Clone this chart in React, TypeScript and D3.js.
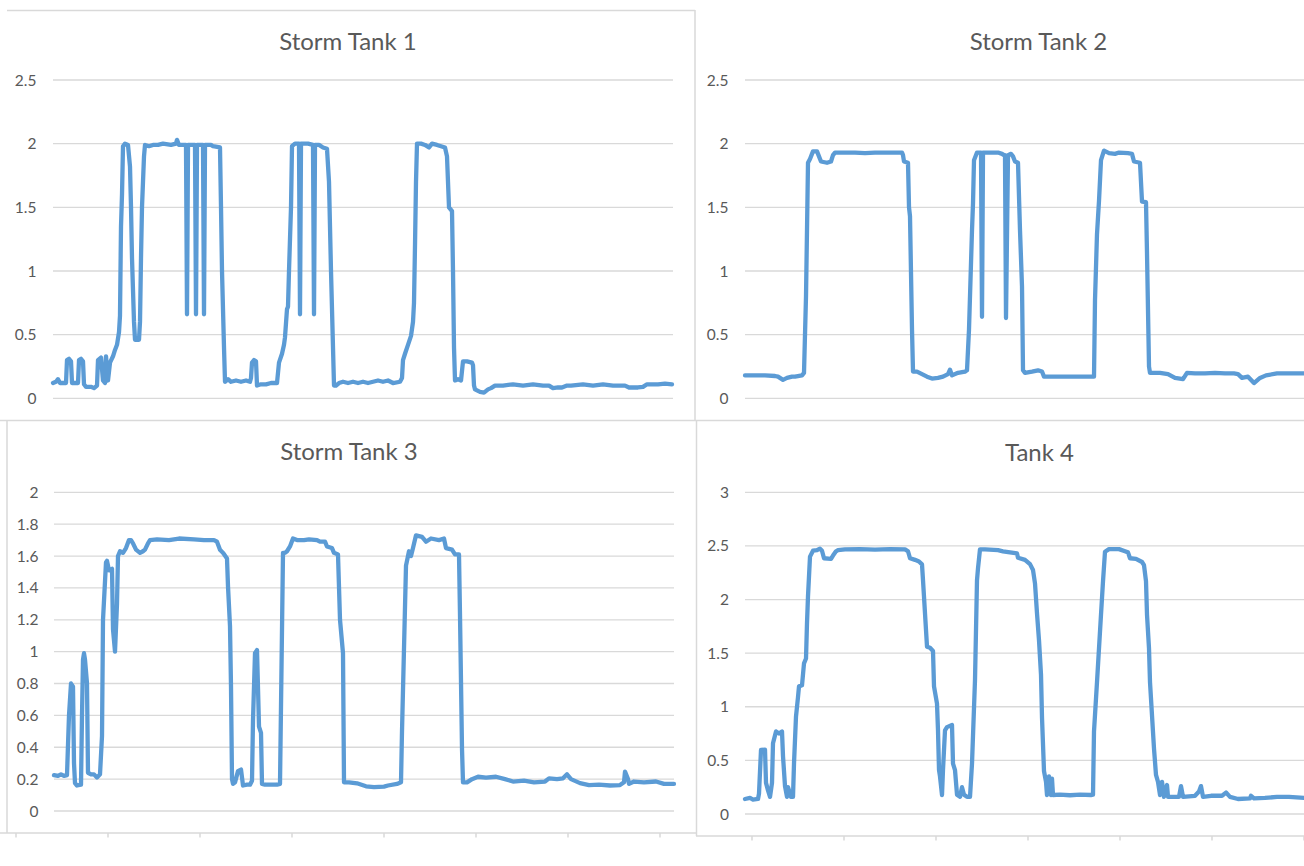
import React, { useEffect, useRef } from "react";
import * as d3 from "d3";

/* DATA: [sample, level] pairs */
const tank1: [number, number][] = [
  [0, 0.12], [3, 0.13], [5, 0.15], [7, 0.12], [13, 0.12], [14, 0.3], [16, 0.31], [18, 0.29], [19, 0.12],
  [25, 0.12], [26, 0.3], [28, 0.31], [30, 0.29], [31, 0.11], [33, 0.09], [38, 0.09], [41, 0.08], [44, 0.1],
  [45, 0.3], [48, 0.32], [50, 0.14], [52, 0.12], [53, 0.33], [55, 0.14], [57, 0.28], [60, 0.33], [62, 0.38],
  [64, 0.42], [66, 0.52], [67, 0.65], [68, 1.35], [69, 1.6], [70, 1.98], [72, 2.0], [75, 1.99], [77, 1.82],
  [78, 1.5], [79, 1.1], [81, 0.6], [82, 0.46], [86, 0.46], [87, 0.6], [88, 1.1], [89, 1.5], [91, 1.9],
  [92, 1.99], [96, 1.98], [100, 1.99], [105, 1.99], [110, 2.0], [118, 1.99], [123, 2.0], [124, 2.03],
  [126, 1.99], [133, 1.99], [134, 0.66], [135, 1.99], [142, 1.99], [143, 0.66], [144, 1.99], [150, 1.99],
  [151, 0.66], [152, 1.99], [158, 1.99], [160, 1.98], [167, 1.97], [168, 1.5], [169, 1.0], [171, 0.4],
  [172, 0.13], [175, 0.15], [178, 0.13], [183, 0.14], [188, 0.13], [193, 0.14], [197, 0.13], [198, 0.16],
  [199, 0.28], [201, 0.3], [203, 0.29], [204, 0.1], [208, 0.11], [213, 0.11], [218, 0.12], [224, 0.12],
  [226, 0.28], [229, 0.35], [231, 0.42], [232, 0.48], [234, 0.7], [235, 0.72], [236, 1.0], [238, 1.5],
  [239, 1.98], [242, 2.0], [246, 2.0], [247, 0.66], [248, 2.0], [255, 2.0], [260, 1.99], [261, 0.66],
  [262, 1.99], [266, 1.99], [270, 1.97], [274, 1.96], [276, 1.7], [278, 1.0], [280, 0.4], [281, 0.1],
  [283, 0.1], [286, 0.12], [290, 0.13], [295, 0.12], [300, 0.13], [305, 0.12], [310, 0.13], [315, 0.12],
  [320, 0.13], [325, 0.14], [330, 0.13], [335, 0.14], [340, 0.12], [347, 0.13], [349, 0.16], [350, 0.3],
  [352, 0.35], [355, 0.42], [358, 0.49], [360, 0.6], [361, 0.75], [362, 1.2], [363, 1.7], [364, 2.0],
  [368, 2.0], [372, 1.99], [376, 1.97], [379, 2.0], [384, 1.99], [388, 1.98], [392, 1.97], [394, 1.9],
  [396, 1.5], [399, 1.47], [400, 1.0], [401, 0.4], [402, 0.14], [405, 0.15], [408, 0.14], [410, 0.29],
  [414, 0.29], [419, 0.28], [420, 0.26], [421, 0.1], [422, 0.07], [427, 0.05], [431, 0.045], [435, 0.07],
  [438, 0.08], [442, 0.1], [450, 0.1], [460, 0.11], [470, 0.1], [480, 0.11], [490, 0.1], [496, 0.1],
  [500, 0.08], [505, 0.085], [509, 0.085], [514, 0.1], [518, 0.1], [530, 0.11], [540, 0.1], [550, 0.11],
  [560, 0.1], [572, 0.1], [576, 0.085], [585, 0.085], [590, 0.09], [594, 0.11], [605, 0.11], [612, 0.115],
  [619, 0.11],
];

const tank2: [number, number][] = [
  [0, 0.18], [10, 0.18], [20, 0.18], [30, 0.175], [33, 0.17], [38, 0.145], [42, 0.16], [47, 0.17], [50, 0.17],
  [57, 0.18], [59, 0.2], [61, 0.8], [62, 1.32], [63, 1.85], [65, 1.88], [67, 1.92], [68, 1.94], [72, 1.94],
  [73, 1.92], [76, 1.86], [82, 1.85], [86, 1.86], [88, 1.91], [90, 1.93], [100, 1.93], [110, 1.93],
  [120, 1.925], [130, 1.93], [140, 1.93], [150, 1.93], [157, 1.93], [158, 1.91], [159, 1.86], [163, 1.85],
  [164, 1.5], [165, 1.43], [167, 0.54], [168, 0.21], [172, 0.21], [177, 0.19], [182, 0.17], [187, 0.155],
  [193, 0.16], [198, 0.17], [203, 0.19], [205, 0.225], [207, 0.18], [213, 0.2], [220, 0.21], [222, 0.22],
  [224, 0.54], [227, 1.32], [228, 1.53], [229, 1.87], [232, 1.93], [236, 1.93], [237, 0.64], [238, 1.93],
  [245, 1.93], [253, 1.93], [257, 1.92], [259, 1.91], [260, 1.91], [261, 0.63], [263, 1.91], [266, 1.92],
  [268, 1.9], [270, 1.86], [273, 1.85], [275, 1.32], [277, 0.88], [278, 0.22], [280, 0.2], [287, 0.21],
  [293, 0.22], [297, 0.21], [299, 0.17], [305, 0.17], [315, 0.17], [325, 0.17], [335, 0.17], [345, 0.17],
  [349, 0.17], [350, 0.77], [352, 1.29], [354, 1.55], [356, 1.87], [359, 1.945], [364, 1.925], [370, 1.92],
  [374, 1.93], [383, 1.925], [387, 1.92], [389, 1.86], [395, 1.85], [397, 1.545], [401, 1.54], [402, 1.14],
  [404, 0.25], [405, 0.2], [415, 0.2], [423, 0.19], [430, 0.16], [438, 0.15], [442, 0.2], [450, 0.195],
  [460, 0.195], [470, 0.2], [480, 0.195], [489, 0.195], [493, 0.19], [497, 0.16], [503, 0.17], [509, 0.12],
  [515, 0.16], [521, 0.18], [532, 0.195], [545, 0.195], [559, 0.195],
];

const tank3: [number, number][] = [
  [0, 0.225], [4, 0.22], [7, 0.23], [10, 0.22], [13, 0.225], [15, 0.6], [17, 0.8], [19, 0.78], [20, 0.3],
  [21, 0.175], [23, 0.16], [27, 0.165], [28, 0.6], [29, 0.95], [30, 0.99], [31, 0.95], [33, 0.8], [34, 0.24],
  [37, 0.23], [40, 0.23], [43, 0.21], [46, 0.23], [48, 0.47], [49, 1.2], [52, 1.56], [53, 1.57], [55, 1.51],
  [58, 1.52], [59, 1.14], [61, 1.0], [63, 1.3], [64, 1.6], [66, 1.63], [69, 1.62], [72, 1.65], [75, 1.7],
  [77, 1.7], [79, 1.68], [82, 1.64], [86, 1.62], [89, 1.63], [91, 1.64], [94, 1.68], [96, 1.7], [103, 1.705],
  [115, 1.7], [125, 1.71], [140, 1.705], [150, 1.7], [160, 1.7], [163, 1.69], [166, 1.64], [169, 1.62],
  [173, 1.585], [174, 1.41], [176, 1.16], [177, 0.78], [178, 0.2], [179, 0.17], [181, 0.18], [184, 0.25],
  [187, 0.26], [189, 0.16], [193, 0.165], [196, 0.165], [198, 0.19], [199, 0.57], [201, 0.99], [203, 1.01],
  [205, 0.53], [207, 0.49], [208, 0.17], [211, 0.165], [223, 0.165], [226, 0.17], [229, 1.62], [231, 1.62],
  [233, 1.63], [236, 1.66], [239, 1.71], [243, 1.7], [250, 1.7], [255, 1.705], [263, 1.7], [266, 1.69],
  [271, 1.69], [273, 1.66], [278, 1.65], [280, 1.62], [284, 1.61], [286, 1.2], [289, 0.99], [290, 0.18],
  [295, 0.18], [303, 0.174], [312, 0.155], [320, 0.15], [330, 0.153], [334, 0.16], [343, 0.17], [347, 0.18],
  [348, 0.5], [350, 1.02], [352, 1.54], [355, 1.63], [357, 1.6], [359, 1.65], [362, 1.73], [368, 1.72],
  [372, 1.69], [377, 1.71], [385, 1.7], [390, 1.71], [392, 1.65], [398, 1.64], [401, 1.61], [405, 1.61],
  [406, 1.23], [408, 0.39], [409, 0.18], [413, 0.18], [418, 0.2], [424, 0.215], [432, 0.21], [442, 0.215],
  [451, 0.2], [459, 0.185], [470, 0.19], [480, 0.18], [491, 0.185], [495, 0.205], [503, 0.2], [509, 0.205],
  [513, 0.23], [517, 0.2], [526, 0.175], [535, 0.163], [545, 0.165], [556, 0.16], [566, 0.163], [570, 0.18],
  [571, 0.247], [574, 0.2], [575, 0.17], [580, 0.185], [590, 0.18], [602, 0.185], [610, 0.17], [620, 0.17],
];

const tank4: [number, number][] = [
  [0, 0.14], [5, 0.15], [8, 0.135], [13, 0.14], [14, 0.19], [16, 0.597], [20, 0.6], [21, 0.29], [23, 0.22],
  [25, 0.16], [27, 0.29], [28, 0.66], [31, 0.77], [34, 0.75], [37, 0.77], [38, 0.54], [40, 0.26], [42, 0.16],
  [43, 0.25], [46, 0.16], [48, 0.16], [49, 0.47], [51, 0.91], [53, 1.09], [54, 1.19], [57, 1.2], [59, 1.405],
  [61, 1.45], [62, 1.78], [63, 2.03], [65, 2.4], [68, 2.455], [72, 2.46], [75, 2.475], [77, 2.455],
  [79, 2.385], [86, 2.38], [88, 2.41], [91, 2.45], [93, 2.46], [100, 2.468], [115, 2.47], [130, 2.465],
  [145, 2.47], [160, 2.468], [163, 2.45], [165, 2.385], [170, 2.37], [174, 2.355], [177, 2.328], [178, 2.18],
  [180, 1.87], [182, 1.56], [185, 1.55], [188, 1.52], [189, 1.19], [192, 1.03], [193, 0.78], [194, 0.41],
  [195, 0.35], [197, 0.177], [198, 0.41], [200, 0.78], [202, 0.81], [207, 0.83], [208, 0.47], [210, 0.41],
  [212, 0.18], [215, 0.16], [217, 0.25], [219, 0.18], [222, 0.16], [225, 0.16], [227, 0.47], [230, 1.25],
  [232, 2.18], [233, 2.29], [235, 2.468], [240, 2.468], [253, 2.46], [258, 2.45], [265, 2.44], [272, 2.43],
  [273, 2.39], [280, 2.37], [285, 2.33], [288, 2.275], [290, 2.15], [292, 1.87], [294, 1.62], [296, 1.3],
  [297, 0.9], [299, 0.4], [301, 0.3], [302, 0.177], [304, 0.35], [306, 0.177], [307, 0.33], [308, 0.177],
  [315, 0.18], [325, 0.175], [335, 0.18], [346, 0.177], [348, 0.18], [349, 0.77], [352, 1.23], [354, 1.545],
  [356, 1.86], [358, 2.17], [360, 2.446], [364, 2.47], [374, 2.47], [380, 2.45], [383, 2.44], [385, 2.385],
  [391, 2.38], [397, 2.35], [399, 2.32], [401, 2.17], [402, 1.86], [404, 1.545], [405, 1.23], [407, 0.92],
  [409, 0.61], [411, 0.364], [413, 0.3], [415, 0.177], [417, 0.3], [419, 0.16], [422, 0.27], [423, 0.16],
  [434, 0.16], [436, 0.26], [438, 0.16], [450, 0.17], [454, 0.21], [456, 0.26], [458, 0.16], [466, 0.17],
  [477, 0.17], [481, 0.2], [485, 0.16], [493, 0.14], [505, 0.145], [506, 0.17], [509, 0.145], [520, 0.15],
  [532, 0.16], [544, 0.16], [559, 0.15],
];

const titles = ["Storm Tank 1", "Storm Tank 2", "Storm Tank 3", "Tank 4"];
const yTicks1 = [0, 0.5, 1, 1.5, 2, 2.5];
const yTicks2 = [0, 0.5, 1, 1.5, 2, 2.5];
const yTicks3 = [0, 0.2, 0.4, 0.6, 0.8, 1, 1.2, 1.4, 1.6, 1.8, 2];
const yTicks4 = [0, 0.5, 1, 1.5, 2, 2.5, 3];

/* LAYOUT */
const panels = [
  { title: titles[0], data: tank1, ticks: yTicks1, x0: 53, y0: 398.3, y1: 80, labelX: 36.5, titleX: 348, titleY: 49.5 },
  { title: titles[1], data: tank2, ticks: yTicks2, x0: 745, y0: 398.3, y1: 80, labelX: 728.5, titleX: 1038.5, titleY: 49.5 },
  { title: titles[2], data: tank3, ticks: yTicks3, x0: 54, y0: 811, y1: 492.3, labelX: 38.5, titleX: 349, titleY: 460 },
  { title: titles[3], data: tank4, ticks: yTicks4, x0: 745, y0: 814, y1: 492.3, labelX: 729, titleX: 1039.5, titleY: 460.5 },
];
const plotWidth = 620;
const samples = 620;
const border = "#d9d9d9";
const grid = "#d9d9d9";
const text = "#595959";
const lineColor = "#5b9bd5";
const font = "Lato, 'Open Sans', sans-serif";

function App() {
  const ref = useRef<SVGSVGElement>(null);

  useEffect(() => {
    document.body.style.margin = "0";
    const svg = d3.select(ref.current);
    svg.selectAll("*").remove();

    svg.append("rect").attr("width", 1304).attr("height", 866).attr("fill", "#ffffff");

    // frame lines between the four charts
    const frame = svg.append("g").attr("stroke", border).attr("stroke-width", 1.5).attr("fill", "none");
    frame.append("line").attr("x1", 7).attr("x2", 695).attr("y1", 10.5).attr("y2", 10.5);
    frame.append("line").attr("x1", 695).attr("x2", 695).attr("y1", 10).attr("y2", 420);
    frame.append("line").attr("x1", 0).attr("x2", 1304).attr("y1", 420.5).attr("y2", 420.5);
    frame.append("line").attr("x1", 7).attr("x2", 7).attr("y1", 420).attr("y2", 833);
    frame.append("line").attr("x1", 696.5).attr("x2", 696.5).attr("y1", 420).attr("y2", 836);
    frame.append("line").attr("x1", 0).attr("x2", 696).attr("y1", 833).attr("y2", 833);
    frame.append("line").attr("x1", 696).attr("x2", 1304).attr("y1", 836).attr("y2", 836);
    d3.range(16, 697, 92).forEach((x) =>
      frame.append("line").attr("x1", x).attr("x2", x).attr("y1", 833).attr("y2", 837.5)
    );
    d3.range(752, 1310, 92).forEach((x) =>
      frame.append("line").attr("x1", x).attr("x2", x).attr("y1", 836).attr("y2", 840.5)
    );

    panels.forEach((p) => {
      const g = svg.append("g");
      const yMax = p.ticks[p.ticks.length - 1];
      const x = d3.scaleLinear().domain([0, samples]).range([p.x0, p.x0 + plotWidth]);
      const y = d3.scaleLinear().domain([0, yMax]).range([p.y0, p.y1]);

      g.append("g")
        .selectAll("line")
        .data(p.ticks)
        .enter()
        .append("line")
        .attr("x1", p.x0)
        .attr("x2", p.x0 + plotWidth)
        .attr("y1", (d) => y(d))
        .attr("y2", (d) => y(d))
        .attr("stroke", grid)
        .attr("stroke-width", 1.3);

      g.append("g")
        .selectAll("text")
        .data(p.ticks)
        .enter()
        .append("text")
        .attr("x", p.labelX)
        .attr("y", (d) => y(d))
        .attr("dy", "0.36em")
        .attr("text-anchor", "end")
        .attr("font-family", font)
        .attr("font-size", 15.5)
        .attr("fill", text)
        .text((d) => String(d));

      g.append("text")
        .attr("x", p.titleX)
        .attr("y", p.titleY)
        .attr("text-anchor", "middle")
        .attr("font-family", font)
        .attr("font-size", 24)
        .attr("fill", text)
        .text(p.title);

      const line = d3
        .line<[number, number]>()
        .x((d) => x(d[0]))
        .y((d) => y(d[1]));

      g.append("path")
        .datum(p.data)
        .attr("d", line)
        .attr("fill", "none")
        .attr("stroke", lineColor)
        .attr("stroke-width", 4.3)
        .attr("stroke-linejoin", "round")
        .attr("stroke-linecap", "round");
    });
  }, []);

  return (
    <svg
      ref={ref}
      width={1304}
      height={866}
      style={{ position: "absolute", left: 0, top: 0, display: "block" }}
    />
  );
}

export default App;
